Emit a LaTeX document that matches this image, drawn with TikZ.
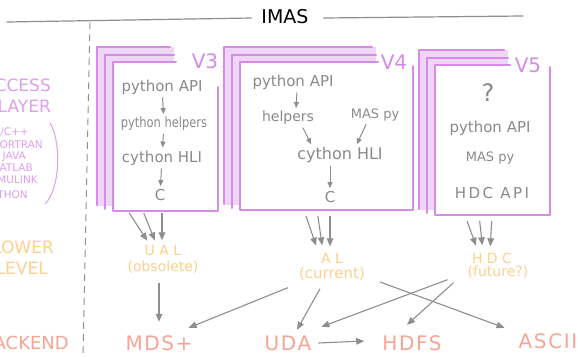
\documentclass[tikz,border=0pt]{standalone}
\usepackage{fontspec}
\usepackage{graphicx}
\setmainfont{DejaVu Sans}
\newfontfamily\widefont[LetterSpace=8]{DejaVu Sans}
\usetikzlibrary{arrows.meta,fit}

\definecolor{violetline}{HTML}{D68BE6}
\definecolor{violetfill}{HTML}{EFD6F7}
\definecolor{accesscol}{HTML}{DDA0EC}
\definecolor{lowercol}{HTML}{FDD08C}
\definecolor{backcol}{HTML}{F6A595}
\definecolor{inkgray}{HTML}{8A8A8A}
\definecolor{arrowgray}{HTML}{8E8E8E}

\tikzset{
  sheet/.style={draw=violetline, line width=2pt, line cap=round, line join=round},
  inked/.style={text=inkgray, inner sep=1pt, font=\fontsize{14}{16}\selectfont},
  arr/.style={draw=arrowgray, line width=1.1pt, -{Triangle[length=8pt,width=6.5pt]}},
  inarr/.style={draw=arrowgray, line width=1pt, -{Triangle[length=6pt,width=5pt]}, shorten >=2pt, shorten <=2pt},
  lowerlbl/.style={text=lowercol, inner sep=2pt, font=\fontsize{14}{16}\selectfont, text height=10pt, text depth=3pt},
  backlbl/.style={text=backcol, inner sep=2pt, font=\widefont\fontsize{20}{22}\selectfont, text height=14pt, text depth=0pt},
  verlbl/.style={text=violetline, inner sep=0pt, font=\fontsize{20}{22}\selectfont},
  sidelbl/.style={inner sep=0pt, anchor=east},
}

% a stack of three sheets: left, top, right, bottom, end of the top edge, start of the right edge
\newcommand\sheetstack[6]{%
  \fill[violetfill] (#1-16,#2-15) rectangle (#5-2,#4-5);
  \draw[sheet] (#1-16,#4-6) -- (#1-16,#2-15) -- (#5-6,#2-15);
  \draw[sheet] (#1-8,#4-2) -- (#1-8,#2-7) -- (#5-2,#2-7);
  \fill[white] (#1,#2) rectangle (#3,#4);
  \draw[sheet] (#5,#2) -- (#1,#2) -- (#1,#4) -- (#3,#4) -- (#3,#6);
}

\begin{document}
\begin{tikzpicture}[x=1pt,y=-1pt]
\clip (0,0) rectangle (578,356);
\fill[white] (0,0) rectangle (578,356);

% title
\node[inner sep=0pt, font=\fontsize{19}{21}\selectfont] (title) at (285,17) {IMAS};
\draw[arrowgray, line width=1.2pt, line cap=round] ([shift={(-10,1)}]title.west) -- (7,22);
\draw[arrowgray, line width=1.2pt, line cap=round] ([shift={(15,1)}]title.east) -- (523,16);

% separator between the layer names and the versions
\draw[arrowgray, line width=0.9pt, dash pattern=on 7pt off 5pt] (90,22) -- (83,356);

% layer names
\node[sidelbl, text=accesscol, font=\fontsize{17}{19}\selectfont] (acc) at (51,85) {ACCESS};
\node[sidelbl, text=accesscol, font=\fontsize{17}{19}\selectfont] (lay) at (51,106) {LAYER};
\node[sidelbl, text=accesscol, font=\fontsize{10.5}{12}\selectfont] (l1) at (29,132) {C/C++};
\node[sidelbl, text=accesscol, font=\fontsize{10.5}{12}\selectfont] (l2) at (43,145) {FORTRAN};
\node[sidelbl, text=accesscol, font=\fontsize{10.5}{12}\selectfont] (l3) at (26,157) {JAVA};
\node[sidelbl, text=accesscol, font=\fontsize{10.5}{12}\selectfont] (l4) at (33,168) {MATLAB};
\node[sidelbl, text=accesscol, font=\fontsize{10.5}{12}\selectfont] (l5) at (38,180) {SIMULINK};
\node[sidelbl, text=accesscol, font=\fontsize{10.5}{12}\selectfont] (l6) at (28,195) {PYTHON};
\draw[accesscol, line width=1pt, line cap=round] (50,123) .. controls (61,140) and (61,188) .. (45,204);
\node[sidelbl, text=lowercol, font=\fontsize{17}{19}\selectfont] (low) at (54,247) {LOWER};
\node[sidelbl, text=lowercol, font=\fontsize{17}{19}\selectfont] (lev) at (48,268) {LEVEL};
\node[sidelbl, text=backcol, font=\fontsize{18}{20}\selectfont] (bck) at (69,343) {BACKEND};

% version 3
\sheetstack{113}{62}{218}{211}{176}{87}
\node[fit={(113,62) (218,211)}, inner sep=0pt] (v3) {};
\node[verlbl] (v3lbl) at (205,61) {V3};
\node[inked, font=\fontsize{15}{17}\selectfont] (p3api) at (162,87) {python API};
\node[inked] (p3help) at (164,124) {\scalebox{0.82}[1]{python helpers}};
\node[inked, font=\fontsize{15}{17}\selectfont] (p3cy) at (162,158) {cython HLI};
\node[inked, font=\fontsize{15}{17}\selectfont] (p3c) at (160,195) {C};
\draw[inarr] (p3api) -- (p3help);
\draw[inarr] (p3help) -- (p3cy);
\draw[inarr] (p3cy) -- (p3c);

% version 4
\sheetstack{240}{62}{413}{210}{378}{66}
\node[fit={(240,62) (413,210)}, inner sep=0pt] (v4) {};
\node[verlbl] (v4lbl) at (394,62) {V4};
\node[inked, font=\fontsize{15}{17}\selectfont] (p4api) at (293,82) {python API};
\node[inked] (p4help) at (288,118) {helpers};
\node[inked, font=\fontsize{13}{15}\selectfont] (p4mas) at (375,115) {MAS py};
\node[inked, font=\fontsize{16}{18}\selectfont] (p4cy) at (340,155) {cython HLI};
\node[inked, font=\fontsize{15}{17}\selectfont] (p4c) at (330,197) {C};
\draw[inarr] ([xshift=4pt]p4api.south) -- ([xshift=8pt]p4help.north);
\draw[inarr] ([xshift=14pt]p4help.south) -- ([xshift=-28pt]p4cy.north);
\draw[inarr] ([xshift=-8pt]p4mas.south) -- ([xshift=16pt]p4cy.north);
\draw[inarr] ([xshift=-10pt]p4cy.south) -- (p4c);

% version 5
\sheetstack{435}{65}{550}{215}{510}{67}
\node[fit={(435,65) (550,215)}, inner sep=0pt] (v5) {};
\node[verlbl] (v5lbl) at (528,65) {V5};
\node[inked, font=\fontsize{24}{26}\selectfont] (p5q) at (488,93) {?};
\node[inked, font=\fontsize{15}{17}\selectfont] (p5api) at (490,128) {python API};
\node[inked, font=\fontsize{13}{15}\selectfont] (p5mas) at (490,158) {MAS py};
\node[inked, font=\fontsize{15}{17}\selectfont] (p5hdc) at (492,193) {H\,D\,C\, A\,P\,I};

% lower level
\node[lowerlbl] (ual) at (163,252) {U A L};
\node[lowerlbl] (obs) at (163,268) {(obsolete)};
\node[lowerlbl] (al) at (332,260) {A L};
\node[lowerlbl, font=\fontsize{15}{17}\selectfont] (cur) at (332,275) {(current)};
\node[lowerlbl] (hdc) at (492,260) {H D C};
\node[lowerlbl] (fut) at (498,273) {(future?)};

% backends
\node[backlbl] (mds) at (159,343) {MDS+};
\node[backlbl] (uda) at (288,343) {UDA};
\node[backlbl] (hdfs) at (412,343) {HDFS};
\node[backlbl] (ascii) at (548,341) {ASCII};

% access layer to lower level
\draw[arr, shorten <=2pt, shorten >=3pt] ([xshift=-37.5pt]v3.south) -- ([xshift=-14pt]ual.north);
\draw[arr, shorten <=2pt, shorten >=3pt] ([xshift=-22.5pt]v3.south) -- ([xshift=-7pt]ual.north);
\draw[arr, shorten <=2pt, shorten >=3pt] ([xshift=-3.5pt]v3.south) -- ([xshift=-1pt]ual.north);
\draw[arr, shorten <=6pt, shorten >=6pt] ([xshift=-22.5pt]v4.south) -- ([xshift=-14pt]al.north);
\draw[arr, shorten <=6pt, shorten >=6pt] ([xshift=-9.5pt]v4.south) -- ([xshift=-9pt]al.north);
\draw[arr, shorten <=6pt, shorten >=5pt] ([xshift=3.5pt]v4.south) -- ([xshift=-2pt]al.north);
\draw[arr, shorten <=6pt, shorten >=6pt] ([xshift=-27.5pt]v5.south) -- ([xshift=-14pt]hdc.north);
\draw[arr, shorten <=6pt, shorten >=6pt] ([xshift=-13.5pt]v5.south) -- ([xshift=-9pt]hdc.north);
\draw[arr, shorten <=6pt, shorten >=5pt] ([xshift=-0.5pt]v5.south) -- ([xshift=-2pt]hdc.north);

% lower level to backends
\draw[arr] ([shift={(-4,6)}]obs.south) -- ([shift={(0,-12)}]mds.north);
\draw[arr] ([shift={(-9,4)}]cur.south west) -- ([shift={(-6,-6)}]mds.north east);
\draw[arr] ([shift={(-12,5)}]cur.south) -- ([shift={(9,-4)}]uda.north);
\draw[arr] ([shift={(13,7)}]cur.east) -- ([shift={(-12,-4)}]ascii.north west);
\draw[arr] ([shift={(-18,-2)}]fut.south west) -- ([shift={(8,-7)}]uda.north east);
\draw[arr] ([shift={(-12,1)}]fut.south west) -- ([shift={(-5,-9)}]hdfs.north);
\draw[arr] ([shift={(5,0)}]uda.east) -- ([shift={(-16,-2)}]hdfs.west);
\end{tikzpicture}
\end{document}
